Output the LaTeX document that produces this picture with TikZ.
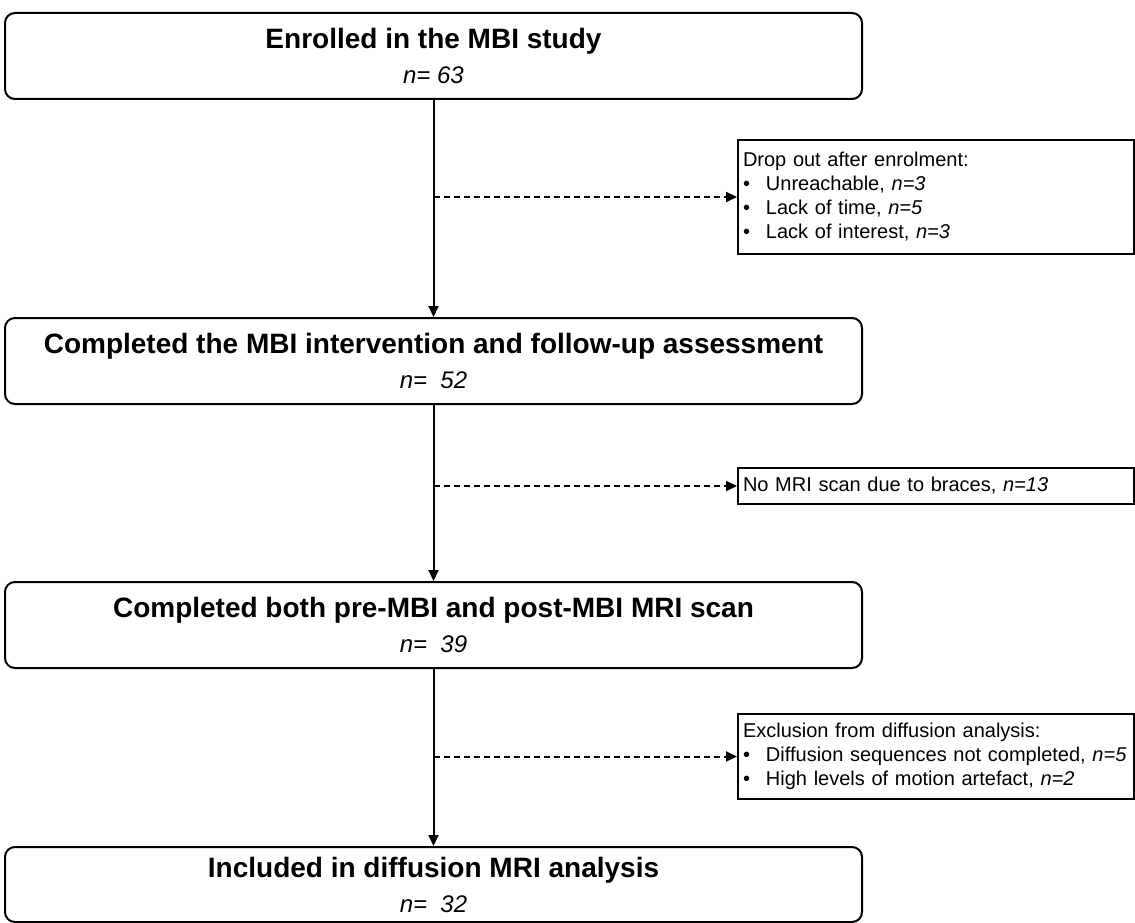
\documentclass[tikz,border=0pt]{standalone}
\usepackage{fontspec}
\setmainfont{Liberation Sans}
\usetikzlibrary{arrows.meta}
\tikzset{
  stagebox/.style={draw,line width=2pt,rounded corners=10pt,minimum width=857pt,minimum height=86pt,
    inner sep=0pt,align=center,anchor=north,font=\fontsize{28}{35}\selectfont},
  dropbox/.style={draw,line width=2pt,minimum width=396pt,text width=386pt,inner sep=5pt,
    align=left,anchor=north west,font=\fontsize{20}{24}\selectfont},
  dropline/.style={->,line width=2pt,dash pattern=on 6pt off 4pt},
}
\newcommand{\nval}[1]{{\fontsize{24}{35}\selectfont\itshape #1}}
\newcommand{\bitem}{\makebox[23pt][l]{\textbullet}}
\begin{document}
\begin{tikzpicture}[>={Triangle[length=11pt,width=10pt]},x=1pt,y=-1pt,line width=2pt]
	\useasboundingbox (0,0) rectangle (1135,923);
	\def\mx{433.5}
	% main stages
	\node[stagebox] (enrol) at (\mx,12) {\textbf{Enrolled in the MBI study}\\\nval{n= 63}};
	\node[stagebox] (followup) at (\mx,317) {\textbf{Completed the MBI intervention and follow-up assessment}\\\nval{n=~~52}};
	\node[stagebox] (scans) at (\mx,581) {\textbf{Completed both pre-MBI and post-MBI MRI scan}\\\nval{n=~~39}};
	\node[stagebox,minimum height=75pt] (included) at (\mx,846) {\textbf{Included in diffusion MRI analysis}\\\nval{n=~~32}};
	% exclusions
	\node[dropbox,minimum height=114pt] (dropout) at (737,139) {Drop out after enrolment:\\
		\bitem Unreachable, \textit{n=3}\\
		\bitem Lack of time, \textit{n=5}\\
		\bitem Lack of interest, \textit{n=3}};
	\node[dropbox,minimum height=36pt] (braces) at (737,467) {No MRI scan due to braces, \textit{n=13}};
	\node[dropbox,minimum height=85pt] (exclusion) at (737,713) {Exclusion from diffusion analysis:\\
		\bitem Diffusion sequences not completed, \textit{n=5}\\
		\bitem High levels of motion artefact, \textit{n=2}};
	\draw[->] (enrol) -- (followup);
	\draw[->] (followup) -- (scans);
	\draw[->] (scans) -- (included);
	\draw[dropline] (enrol.south |- dropout.west) -- (dropout.west);
	\draw[dropline] (followup.south |- braces.west) -- (braces.west);
	\draw[dropline] (scans.south |- exclusion.west) -- (exclusion.west);
\end{tikzpicture}
\end{document}
